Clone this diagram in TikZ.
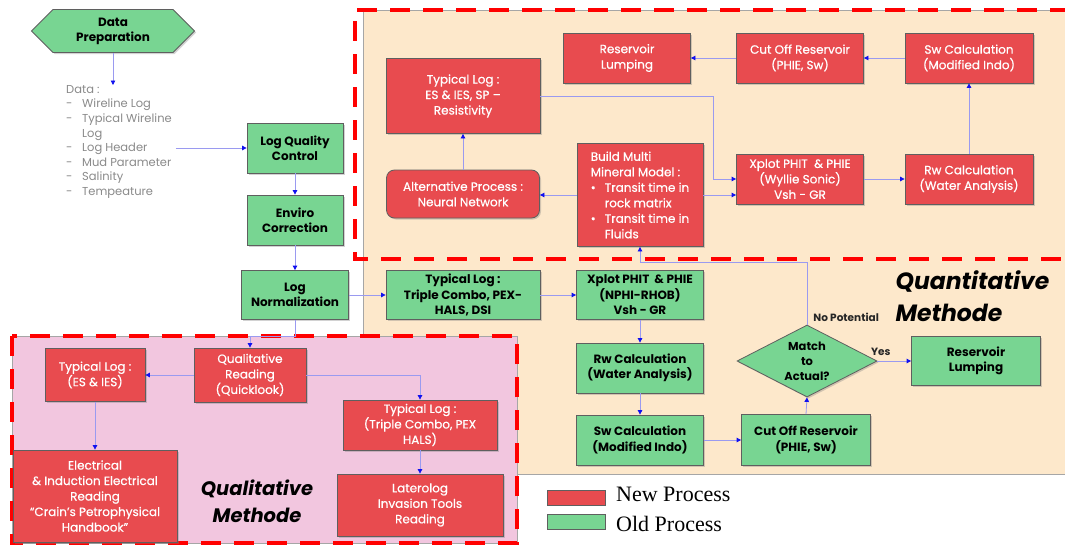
\documentclass[tikz,border=0pt]{standalone}
\usepackage{fontspec}
\usepackage{xcolor}
\usepackage{tikz}
\usetikzlibrary{arrows.meta,shapes.geometric,shapes.symbols,shadows}
\setmainfont{Poppins}
\newfontfamily\legendfont{Liberation Serif}
\newfontfamily\newprocfont[FakeBold=0.6]{Poppins}
\definecolor{newred}{HTML}{E84B4F}
\definecolor{oldgreen}{HTML}{78D592}
\definecolor{edge}{HTML}{5F5F5F}
\definecolor{peach}{HTML}{FDE8CB}
\definecolor{pinkzone}{HTML}{F2C6DF}
\definecolor{flowline}{HTML}{9A9AF0}
\definecolor{flowtip}{HTML}{1010F0}
\definecolor{listgray}{HTML}{8A8A8A}
\tikzset{
  wh/.style 2 args={minimum width=#1pt, minimum height=#2pt},
  procBase/.style={draw=edge, line width=0.8pt, align=center, inner sep=1pt,
    drop shadow={shadow xshift=1.5pt, shadow yshift=-1.5pt, opacity=0.35}},
  newProc/.style={procBase, fill=newred, text=white, font=\newprocfont\fontsize{12}{15.5}\selectfont},
  oldProc/.style={procBase, fill=oldgreen, text=black, font=\fontsize{12}{15.5}\selectfont\bfseries},
  flow/.style={draw=flowline, line width=0.8pt,
    -{Triangle[length=4.5pt, width=4.5pt, color=flowtip]}},
  zoneLine/.style={draw=red, line width=4pt, dash pattern=on 20pt off 13pt},
  zoneTitle/.style={text=black, align=center},
  smallLabel/.style={font=\fontsize{10.5}{12}\selectfont\bfseries, text=black!85, inner sep=0pt}
}
\begin{document}
\begin{tikzpicture}[x=1pt, y=-1pt]
  \useasboundingbox[fill=white] (0,0) rectangle (1065,546);

  % zones
  \filldraw[fill=peach, draw=black!35, line width=0.6pt] (363,10) rectangle (1068,474);
  \draw[zoneLine] (1070,10) -- (355,10) -- (355,259) -- (1070,259);
  \filldraw[fill=pinkzone, draw=black!35, line width=0.6pt] (12,336) rectangle (517,543);
  \draw[zoneLine] (12,336) rectangle (517,543);

  % data preparation
  \node[shape=signal, signal to=east and west, fill=oldgreen, draw=edge, line width=0.8pt,
    wh={163}{43}, inner sep=0pt, align=center, font=\fontsize{12}{15}\selectfont\bfseries,
    drop shadow={shadow xshift=1.5pt, shadow yshift=-1.5pt, opacity=0.35}]
    (prep) at (113,31) {Data\\Preparation};
  \node[anchor=north west, align=left, inner sep=0pt, text=listgray,
    font=\fontsize{11.5}{14.6}\selectfont] (datalist) at (66,85)
    {Data :\\
     \makebox[16pt][l]{-}Wireline Log\\
     \makebox[16pt][l]{-}Typical Wireline\\
     \hspace*{16pt}Log\\
     \makebox[16pt][l]{-}Log Header\\
     \makebox[16pt][l]{-}Mud Parameter\\
     \makebox[16pt][l]{-}Salinity\\
     \makebox[16pt][l]{-}Tempeature};

  % old process chain
  \node[oldProc, wh={96}{50}] (lqc) at (295,148) {Log Quality\\Control};
  \node[oldProc, wh={96}{50}] (enviro) at (295,220) {Enviro\\Correction};
  \node[oldProc, wh={107}{49}] (lognorm) at (295,295) {Log\\Normalization};
  \node[oldProc, wh={154}{49}] (tlTriple) at (463,295) {Typical Log :\\Triple Combo, PEX-\\HALS, DSI};
  \node[oldProc, wh={127}{49}] (xpDens) at (640,295) {Xplot PHIT \ \& PHIE\\(NPHI-RHOB)\\Vsh - GR};
  \node[oldProc, wh={127}{50}] (rwOld) at (640,368) {Rw Calculation\\(Water Analysis)};
  \node[oldProc, wh={127}{50}] (swOld) at (640,440) {Sw Calculation\\(Modified Indo)};
  \node[oldProc, wh={129}{51}] (cutOld) at (806,440) {Cut Off Reservoir\\(PHIE, Sw)};
  \node[shape=diamond, aspect=2, fill=oldgreen, draw=edge, line width=0.8pt, wh={140}{72}, inner sep=0pt,
    align=center, font=\fontsize{11.5}{15}\selectfont\bfseries,
    drop shadow={shadow xshift=1.5pt, shadow yshift=-1.5pt, opacity=0.35}]
    (match) at (807,361) {Match\\to\\Actual?};
  \node[oldProc, wh={129}{49}] (lumpOld) at (976,361) {Reservoir\\Lumping};

  % new process, quantitative
  \node[newProc, wh={127}{50}] (lumpNew) at (627,58) {Reservoir\\Lumping};
  \node[newProc, wh={127}{50}] (cutNew) at (800,58) {Cut Off Reservoir\\(PHIE, Sw)};
  \node[newProc, wh={128}{50}] (swNew) at (969,58) {Sw Calculation\\(Modified Indo)};
  \node[newProc, wh={154}{75}] (tlResist) at (463,96) {Typical Log :\\ES \& IES, SP –\\Resistivity};
  \node[newProc, wh={126}{103}, align=left, inner sep=4pt] (build) at (640,195)
    {Build Multi\\Mineral Model :\\
     \makebox[14pt][l]{\textbullet}Transit time in\\
     \hspace*{14pt}rock matrix\\
     \makebox[14pt][l]{\textbullet}Transit time in\\
     \hspace*{14pt}Fluids};
  \node[newProc, wh={153}{48}, rounded corners=8pt] (neural) at (463,194) {Alternative Process :\\Neural Network};
  \node[newProc, wh={127}{50}] (xpSonic) at (800,179) {Xplot PHIT \ \& PHIE\\(Wyllie Sonic)\\Vsh - GR};
  \node[newProc, wh={128}{50}] (rwNew) at (969,179) {Rw Calculation\\(Water Analysis)};

  % new process, qualitative
  \node[newProc, wh={112}{54}] (quick) at (250,375) {Qualitative\\Reading\\(Quicklook)};
  \node[newProc, wh={100}{53}] (tlES) at (95,375) {Typical Log :\\(ES \& IES)};
  \node[newProc, wh={164}{92}, font=\newprocfont\fontsize{12}{15.5}\selectfont] (crain) at (95,496)
    {Electrical\\\& Induction Electrical\\Reading\\“Crain’s Petrophysical\\Handbook”};
  \node[newProc, wh={154}{50}] (tlTripleNew) at (420,425) {Typical Log :\\(Triple Combo, PEX\\HALS)};
  \node[newProc, wh={166}{62}] (latero) at (420,505) {Laterolog\\Invasion Tools\\Reading};

  % zone titles
  \node[zoneTitle, font=\fontsize{19.5}{27}\selectfont\bfseries\itshape] (qualTitle) at (257,501) {Qualitative\\Methode};
  \node[zoneTitle, align=left, anchor=west, font=\fontsize{23.5}{32}\selectfont\bfseries\itshape] (quantTitle) at (892,296) {Quantitative\\Methode};

  % connectors
  \draw[flow] (prep.south) -- (prep.south |- datalist.north);
  \draw[flow] ([xshift=4pt]datalist.east |- lqc.west) -- (lqc.west);
  \draw[flow] (lqc) -- (enviro);
  \draw[flow] (enviro) -- (lognorm);
  \draw[flow] (lognorm.south) -- ++(0,16) -| (quick.north);
  \draw[flow] (quick) -- (tlES);
  \draw[flow] (tlES) -- (crain);
  \draw[flow] (quick.east) -| (tlTripleNew.north);
  \draw[flow] (tlTripleNew) -- (latero);
  \draw[flow] (lognorm) -- (tlTriple);
  \draw[flow] (tlTriple) -- (xpDens);
  \draw[flow] (xpDens) -- (rwOld);
  \draw[flow] (rwOld) -- (swOld);
  \draw[flow] (swOld) -- (cutOld);
  \draw[flow] (cutOld.north) -- (match.south);
  \draw[flow] (match.east) -- node[smallLabel, above=5pt, pos=0.1] {Yes} (lumpOld.west);
  \draw[flow] (match.north) -- node[smallLabel, right=6pt, pos=0.12] {No Potential} ++(0,-62) -| (build.south);
  \draw[flow] (build.west) -- (build.west -| neural.east);
  \draw[flow] (neural) -- (tlResist);
  \draw[flow] (tlResist.east) -| ([xshift=-23pt]xpSonic.west) -- (xpSonic.west);
  \draw[flow] (build.east) -- (build.east -| xpSonic.west);
  \draw[flow] (xpSonic) -- (rwNew);
  \draw[flow] (rwNew) -- (swNew);
  \draw[flow] (swNew) -- (cutNew);
  \draw[flow] (cutNew) -- (lumpNew);

  % legend
  \node[fill=newred, draw=edge, line width=0.6pt, wh={58}{15}, inner sep=0pt] (keyNew) at (576,498) {};
  \node[fill=oldgreen, draw=edge, line width=0.6pt, wh={58}{15}, inner sep=0pt] (keyOld) at (576,522) {};
  \node[anchor=base west, inner sep=0pt, font=\legendfont\fontsize{22}{26}\selectfont] (keyNewText) at (616,501) {New Process};
  \node[anchor=base west, inner sep=0pt, font=\legendfont\fontsize{22}{26}\selectfont] (keyOldText) at (616,531) {Old Process};
\end{tikzpicture}
\end{document}
